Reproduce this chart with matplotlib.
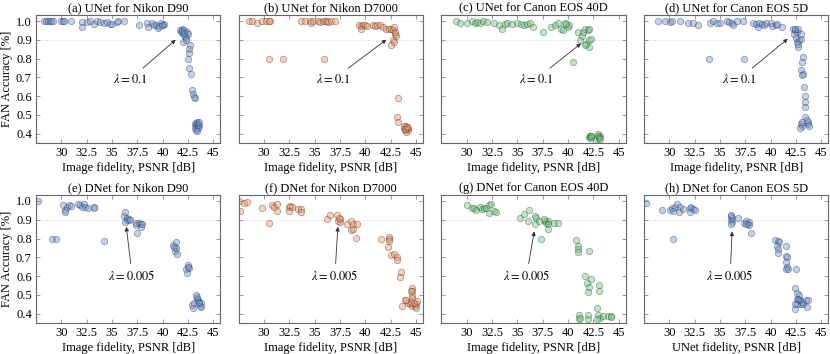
import numpy as np
import matplotlib
matplotlib.use('Agg')
import matplotlib.pyplot as plt

plt.rcParams['font.family'] = ['Liberation Serif', 'DejaVu Serif']
plt.rcParams['mathtext.fontset'] = 'stix'
plt.rcParams['font.size'] = 9

# ---- data (PSNR, accuracy) ----
# (a) UNet for Nikon D90
a_x = [28.3, 28.5, 28.7, 28.9, 29.0, 29.2, 30.0, 30.2, 30.3, 31.0, 32.0, 32.0, 32.5, 32.8, 33.2, 33.5,
       33.8, 34.2, 34.5, 34.8, 35.0, 35.5, 35.6, 36.2, 37.7, 38.5, 38.6, 39.0, 39.2, 39.4, 39.5, 39.8,
       40.0, 40.1, 39.6, 39.9,
       41.7, 41.8, 41.9, 42.0, 42.0, 42.1, 42.2, 42.3, 42.4, 42.5, 42.3, 41.9, 42.1,
       42.7, 42.6, 42.6, 42.5, 42.6, 42.8, 42.9, 43.0, 43.2, 43.15,
       43.2, 43.3, 43.4, 43.5, 43.6, 43.25, 43.35, 43.45, 43.55, 43.3, 43.5, 43.4]
a_y = [1.0, 1.0, 1.0, 1.0, 1.0, 1.0, 1.0, 1.0, 1.0, 1.0, 0.995, 0.97, 0.995, 1.0, 0.985, 1.0,
       0.995, 0.99, 0.995, 0.985, 0.985, 0.995, 1.0, 1.0, 0.98, 0.99, 0.97, 0.99, 0.98, 0.98, 0.965, 0.99,
       0.98, 0.985, 0.975, 0.98,
       0.95, 0.94, 0.955, 0.93, 0.89, 0.95, 0.92, 0.91, 0.94, 0.93, 0.90, 0.945, 0.935,
       0.87, 0.85, 0.83, 0.80, 0.75, 0.72, 0.63, 0.61, 0.59, 0.595,
       0.45, 0.44, 0.46, 0.45, 0.44, 0.43, 0.455, 0.445, 0.46, 0.42, 0.43, 0.415]

# (b) UNet for Nikon D7000
b_x = [28.5, 28.8, 29.3, 29.8, 30.2, 30.6, 30.5, 33.7, 34.0, 34.5, 34.6, 34.8, 35.3, 35.5, 35.8, 36.0,
       36.2, 36.3, 36.6, 37.0, 30.5, 31.9, 35.9,
       39.4, 39.6, 39.8, 40.0, 40.2, 39.6, 40.8, 41.0, 41.2, 41.5, 41.8, 42.0, 42.3, 42.5, 42.7, 42.8,
       42.9, 43.0, 42.7, 42.5, 42.8, 42.95,
       43.2, 43.1, 43.2, 43.8, 43.9, 44.0, 44.1, 44.2, 43.85, 44.05, 44.25, 43.95, 44.15]
b_y = [1.0, 1.0, 0.99, 1.0, 1.0, 1.0, 1.0, 1.0, 1.0, 1.0, 0.99, 1.0, 1.0, 0.995, 1.0, 1.0,
       1.0, 0.995, 1.0, 1.0, 0.80, 0.80, 0.80,
       0.98, 0.975, 0.98, 0.98, 0.975, 0.96, 0.98, 0.975, 0.98, 0.98, 0.97, 0.96, 0.96, 0.96, 0.95, 0.97,
       0.93, 0.92, 0.90, 0.87, 0.89, 0.94,
       0.59, 0.49, 0.46, 0.43, 0.42, 0.44, 0.43, 0.42, 0.44, 0.41, 0.43, 0.425, 0.435]

# (c) UNet for Canon EOS 40D
c_x = [28.9, 29.3, 30.0, 30.5, 30.8, 31.0, 31.3, 31.6, 32.0, 32.7, 33.2, 33.5, 33.8, 34.0, 34.5, 35.0,
       35.4, 35.7, 36.0, 36.3, 36.5, 37.5, 38.3, 38.7, 39.0, 39.3, 39.5, 39.7, 40.0, 40.1, 39.8,
       41.0, 41.4, 41.5, 41.7, 42.0, 42.1, 41.2, 41.8, 42.1, 42.3, 42.1, 41.7, 40.5,
       42.1, 42.2, 42.3, 42.15, 42.25, 42.9, 43.0, 43.1, 43.2, 42.95, 43.05, 43.15]
c_y = [1.0, 0.99, 0.99, 1.0, 0.99, 0.995, 0.99, 1.0, 0.995, 0.99, 0.98, 0.96, 0.985, 0.99, 0.985, 0.99,
       0.985, 0.98, 0.985, 0.99, 0.97, 0.94, 0.97, 0.98, 0.99, 0.96, 0.95, 0.99, 0.97, 0.98, 0.985,
       0.94, 0.92, 0.94, 0.96, 0.95, 0.96, 0.90, 0.88, 0.90, 0.905, 0.86, 0.87, 0.78,
       0.38, 0.39, 0.385, 0.375, 0.39, 0.37, 0.40, 0.38, 0.385, 0.39, 0.375, 0.37]

# (d) UNet for Canon EOS 5D
d_x = [28.9, 29.6, 30.1, 30.3, 31.0, 31.8, 32.3, 32.8, 34.0, 34.3, 34.7, 35.0, 35.7, 35.9, 36.2, 36.3,
       36.7, 37.3, 38.3, 38.6, 38.8, 38.9, 39.1, 39.3, 39.5, 40.0, 40.1, 40.5, 40.6, 41.1, 33.9, 37.4,
       42.2, 42.4, 42.6, 42.7, 42.3, 42.5, 42.6, 42.8, 42.7, 42.75, 43.0, 43.0, 42.45,
       43.2, 43.1, 43.0, 43.2, 43.1, 43.3, 43.4, 43.35, 43.4, 43.4,
       43.0, 43.1, 42.9, 43.7, 43.65, 43.75, 43.05, 43.6]
d_y = [1.0, 1.0, 0.995, 1.0, 1.0, 0.99, 0.99, 0.98, 0.99, 1.0, 0.99, 0.99, 1.0, 0.995, 0.99, 0.98,
       1.0, 1.0, 0.99, 0.985, 0.97, 0.99, 0.985, 0.98, 0.99, 0.99, 0.975, 0.98, 0.985, 0.97, 0.80, 0.80,
       0.96, 0.95, 0.94, 0.96, 0.93, 0.91, 0.89, 0.90, 0.86, 0.88, 0.905, 0.93, 0.955,
       0.81, 0.78, 0.74, 0.72, 0.71, 0.65, 0.60, 0.57, 0.54, 0.49,
       0.45, 0.44, 0.43, 0.45, 0.46, 0.44, 0.46, 0.47]

# (e) DNet for Nikon D90
e_x = [27.7, 29.1, 29.5, 30.2, 30.4, 30.6, 30.8, 31.0, 30.4, 31.6, 31.8, 32.0, 32.2, 32.3, 32.6, 33.2,
       33.2, 34.2,
       36.2, 36.3, 36.5, 36.5, 36.3, 36.7, 36.8, 37.4, 37.4, 37.5, 37.7, 37.9, 38.0, 37.9,
       41.0, 41.3, 41.3, 41.2, 41.4, 41.1,
       42.3, 42.5, 42.6, 42.4, 42.55,
       42.9, 43.0, 43.1, 43.3, 43.4, 43.5, 43.6, 43.7, 43.8, 43.8, 43.55, 43.4]
e_y = [1.0, 0.80, 0.80, 0.98, 0.95, 0.97, 0.98, 0.975, 0.94, 0.985, 0.98, 0.97, 0.985, 0.97, 0.96, 0.97,
       0.96, 0.785,
       0.92, 0.94, 0.91, 0.90, 0.89, 0.905, 0.90, 0.885, 0.87, 0.83, 0.885, 0.875, 0.88, 0.86,
       0.765, 0.78, 0.75, 0.735, 0.72, 0.755,
       0.635, 0.66, 0.645, 0.615, 0.65,
       0.448, 0.43, 0.455, 0.50, 0.48, 0.47, 0.46, 0.44, 0.455, 0.435, 0.455, 0.49]

# (f) DNet for Nikon D7000
f_x = [27.5, 28.0, 27.6, 28.3, 29.8, 30.5, 30.8, 31.0, 31.3, 31.3, 32.5, 32.6, 32.8, 32.5, 33.4, 33.7,
       33.7,
       36.2, 36.5, 37.2, 37.3, 37.5, 37.5, 37.4, 38.2, 38.6, 38.8, 39.2, 38.6, 38.8, 39.1,
       41.6, 42.3, 42.3, 42.35, 42.2, 42.5, 42.8, 43.1, 43.1, 43.5, 43.4,
       44.6, 44.6, 44.65, 44.6, 43.9, 44.2, 44.4, 44.6, 44.9, 45.0, 45.0, 43.6, 44.5, 45.1, 44.8,
       44.0, 44.5]
f_y = [1.0, 0.99, 0.945, 0.995, 0.96, 0.885, 0.98, 0.97, 0.985, 0.945, 0.97, 0.975, 0.97, 0.945, 0.955, 0.955,
       0.94,
       0.905, 0.925, 0.925, 0.895, 0.905, 0.89, 0.91, 0.875, 0.895, 0.875, 0.88, 0.845, 0.85, 0.805,
       0.795, 0.81, 0.795, 0.785, 0.755, 0.71, 0.72, 0.70, 0.685, 0.62, 0.595,
       0.535, 0.52, 0.50, 0.485, 0.47, 0.455, 0.45, 0.44, 0.44, 0.45, 0.43, 0.44, 0.46, 0.465, 0.455,
       0.47, 0.52]

# (g) DNet for Canon EOS 40D
g_x = [30.0, 30.5, 30.7, 30.9, 31.3, 31.5, 31.7, 31.9, 32.2, 32.4, 32.2, 32.7, 32.9,
       35.3, 35.7, 36.2, 36.1, 36.7, 36.8, 36.7, 37.1, 37.3, 37.7, 37.8, 38.0, 38.0, 38.0, 38.6, 39.0,
       37.6,
       40.8, 40.95, 41.0, 40.95, 42.1,
       41.7, 41.9, 42.0, 42.1, 42.3, 43.1, 43.1,
       41.1, 41.1, 41.15, 42.0, 42.0, 42.9, 43.0, 43.2, 42.9, 43.5, 44.0, 44.3, 44.3]
g_y = [0.977, 0.965, 0.965, 0.95, 0.97, 0.955, 0.96, 0.96, 0.98, 0.985, 0.935, 0.945, 0.94,
       0.91, 0.93, 0.95, 0.895, 0.92, 0.91, 0.88, 0.895, 0.80, 0.895, 0.885, 0.895, 0.875, 0.85, 0.885, 0.885,
       0.905,
       0.79, 0.76, 0.745, 0.73, 0.735,
       0.603, 0.565, 0.515, 0.54, 0.585, 0.55, 0.52,
       0.39, 0.37, 0.375, 0.39, 0.37, 0.43, 0.39, 0.375, 0.37, 0.385, 0.385, 0.385, 0.38]

# (h) DNet for Canon EOS 5D
h_x = [27.7, 29.3, 30.1, 30.3, 30.4, 30.6, 30.8, 31.0, 30.9, 31.3, 30.4, 32.0, 32.1, 32.3, 32.5, 32.0,
       36.05, 36.1, 36.2, 36.05, 36.15, 36.1, 36.8, 37.4, 37.6, 37.8, 37.9, 37.9, 38.1, 37.6,
       40.45, 40.7, 40.8, 40.6, 40.7, 40.7, 41.5, 41.55, 41.6, 41.5, 41.6, 41.55, 41.7, 42.5,
       42.4, 42.6, 42.8, 42.6, 42.8, 42.4, 42.6, 43.0, 42.9, 43.2, 43.1, 43.5, 43.7, 43.6, 42.4, 42.7]
h_y = [0.99, 0.95, 0.95, 0.96, 0.945, 0.97, 0.985, 0.97, 0.94, 0.955, 0.80, 0.96, 0.97, 0.955, 0.95, 0.94,
       0.90, 0.92, 0.89, 0.88, 0.91, 0.925, 0.91, 0.885, 0.895, 0.875, 0.89, 0.87, 0.83, 0.875,
       0.79, 0.785, 0.78, 0.76, 0.745, 0.725, 0.76, 0.705, 0.70, 0.675, 0.65, 0.635, 0.64, 0.64,
       0.537, 0.51, 0.50, 0.48, 0.47, 0.45, 0.45, 0.45, 0.47, 0.45, 0.46, 0.47, 0.47, 0.435, 0.425, 0.48]

titles = ['(a) UNet for Nikon D90', '(b) UNet for Nikon D7000', '(c) UNet for Canon EOS 40D',
          '(d) UNet for Canon EOS 5D', '(e) DNet for Nikon D90', '(f) DNet for Nikon D7000',
          '(g) DNet for Canon EOS 40D', '(h) DNet for Canon EOS 5D']
xlabels = ['Image fidelity, PSNR [dB]'] * 7 + ['UNet fidelity, PSNR [dB]']
xs = [a_x, b_x, c_x, d_x, e_x, f_x, g_x, h_x]
ys = [a_y, b_y, c_y, d_y, e_y, f_y, g_y, h_y]

blue = ('#7393c8', '#1d3461')
orange = ('#e39a72', '#5c2408')
green = ('#72be82', '#174f22')
colors = [blue, orange, green, blue, blue, orange, green, blue]

# annotation: text position, arrow tip
ann_text = ['$\\lambda = 0.1$'] * 4 + ['$\\lambda = 0.005$'] * 4
ann_xytext = [(36.8, 0.69), (36.85, 0.69), (36.85, 0.69), (36.85, 0.69),
              (37.0, 0.60), (37.0, 0.60), (35.9, 0.60), (36.0, 0.60)]
ann_xy = [(41.4, 0.905), (42.2, 0.905), (41.4, 0.885), (41.8, 0.91),
          (36.4, 0.87), (37.3, 0.87), (36.7, 0.845), (36.2, 0.845)]

xticks = [30, 32.5, 35, 37.5, 40, 42.5, 45]
xticklabels = ['30', '32.5', '35', '37.5', '40', '42.5', '45']
yticks = [0.4, 0.5, 0.6, 0.7, 0.8, 0.9, 1.0]

fig, axes = plt.subplots(2, 4, figsize=(8.3, 3.54), dpi=100)
plt.subplots_adjust(left=0.0434, right=0.998, top=0.9576, bottom=0.0876, wspace=0.1, hspace=0.406)

for i, ax in enumerate(axes.flat):
    face, edge = colors[i]
    ax.axhline(0.9, ls=':', color='#d8d8d8', lw=0.7, zorder=0)
    ax.scatter(xs[i], ys[i], s=21, c=face, edgecolors=edge, linewidths=0.6, alpha=0.42, zorder=2)
    ax.set_xlim(27.5, 45.7)
    ax.set_ylim(0.35, 1.032)
    ax.set_xticks(xticks)
    ax.set_xticklabels(xticklabels)
    ax.set_yticks(yticks)
    if i % 4 == 0:
        ax.set_yticklabels(['%.1f' % v for v in yticks])
        ax.set_ylabel('FAN Accuracy [%]')
        ax.yaxis.set_label_coords(-0.125, 0.5)
    else:
        ax.set_yticklabels([])
    ax.set_title(titles[i], fontsize=9, pad=3)
    ax.set_xlabel(xlabels[i], labelpad=2)
    ax.tick_params(direction='in', top=True, right=True, length=3, width=0.6,
                   color='#888888', pad=3, labelsize=9)
    for sp in ax.spines.values():
        sp.set_color('#666666')
        sp.set_linewidth(0.8)
    ax.annotate(ann_text[i], xy=ann_xy[i], xytext=ann_xytext[i], ha='center', va='center',
                fontsize=9,
                arrowprops=dict(arrowstyle='-|>', color='#333333', lw=0.6,
                                mutation_scale=6, shrinkA=2, shrinkB=1))

plt.savefig('out.png', dpi=100)
